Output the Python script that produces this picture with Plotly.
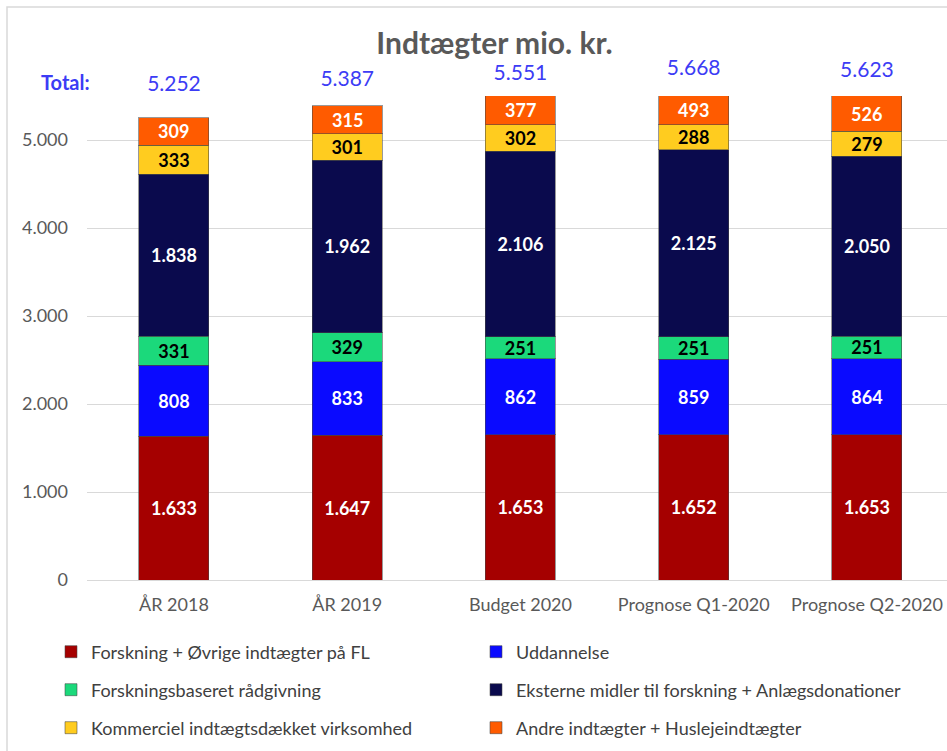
import plotly.graph_objects as go

categories = ["ÅR 2018", "ÅR 2019", "Budget 2020", "Prognose Q1-2020", "Prognose Q2-2020"]

forskning = [1633, 1647, 1653, 1652, 1653]
uddannelse = [808, 833, 862, 859, 864]
raadgivning = [331, 329, 251, 251, 251]
eksterne = [1838, 1962, 2106, 2125, 2050]
kommerciel = [333, 301, 302, 288, 279]
andre = [309, 315, 377, 493, 526]

series = [
    ("Forskning + Øvrige indtægter på FL", forskning, "#A50000", "white"),
    ("Uddannelse", uddannelse, "#0A0AFF", "white"),
    ("Forskningsbaseret rådgivning", raadgivning, "#1BD97B", "black"),
    ("Eksterne midler til forskning + Anlægsdonationer", eksterne, "#0A0A4D", "white"),
    ("Kommerciel indtægtsdækket virksomhed", kommerciel, "#FFCC1F", "black"),
    ("Andre indtægter + Huslejeindtægter", andre, "#FF5B00", "white"),
]

totals = [sum(v) for v in zip(forskning, uddannelse, raadgivning, eksterne, kommerciel, andre)]

y_ticks = [0, 1000, 2000, 3000, 4000, 5000]
Y_MAX = 5500

FONT = "Lato, 'Open Sans', sans-serif"
legend_names = ["legend", "legend2", "legend3"]

# layout geometry (pixels)
W, H = 947, 751
L, R, T, B = 87, 0, 60, 171
PH = H - T - B  # plot height
main_top_px = 96
dom_split = (H - B - main_top_px) / PH


def px_x(px):
    return (px - L) / (W - L - R)


def px_y(py):
    return (H - B - py) / PH


def fmt(v):
    return f"{v:,}".replace(",", ".")


fig = go.Figure()
for i, (name, vals, color, tcolor) in enumerate(series):
    is_top = i == len(series) - 1
    fig.add_trace(go.Bar(
        x=categories, y=vals, name=name,
        marker=dict(color=color, line=dict(color="rgba(70,70,70,0.55)", width=1)),
        width=0.404,
        text=vals, texttemplate="%{y:,}",
        textposition="none" if is_top else "inside",
        insidetextanchor="middle", textangle=0, constraintext="none",
        textfont=dict(family=FONT, size=18, color=tcolor, weight="bold"),
        legend=legend_names[i // 2],
        hoverinfo="skip",
    ))

# labels of the top segment, centred on the visible (clipped) part of the bar
top_name, top_vals, _, top_tcolor = series[-1]
for c, v, tot in zip(categories, top_vals, totals):
    base = tot - v
    fig.add_annotation(x=c, y=(base + min(tot, Y_MAX)) / 2, xref="x", yref="y",
                       text=f"<b>{fmt(v)}</b>", showarrow=False,
                       xanchor="center", yanchor="middle",
                       font=dict(family=FONT, size=18, color=top_tcolor))

fig.add_trace(go.Scatter(
    x=categories, y=totals, mode="text", yaxis="y2",
    text=[fmt(t) for t in totals],
    textposition="middle center",
    textfont=dict(family=FONT, size=21, color="#3C3CF5"),
    showlegend=False, cliponaxis=False, hoverinfo="skip",
))

leg_common = dict(orientation="h", xanchor="left", yanchor="middle",
                  font=dict(family=FONT, size=18, color="#404040"),
                  entrywidth=380, traceorder="normal", bgcolor="rgba(0,0,0,0)")
leg_x = px_x(51)

fig.update_layout(
    width=W, height=H,
    margin=dict(l=L, r=R, t=T, b=B),
    paper_bgcolor="white", plot_bgcolor="white",
    barmode="stack",
    separators=",.",
    font=dict(family=FONT, color="#595959"),
    title=dict(text="<b>Indtægter mio. kr.</b>", x=494.5 / W, xref="container", y=1 - 43 / H,
               yref="container", xanchor="center", yanchor="middle",
               font=dict(family=FONT, size=30, color="#595959")),
    xaxis=dict(range=[-0.502, 4.462], showgrid=False, showline=True, linecolor="#D9D9D9",
               ticks="", ticklabelstandoff=8,
               tickfont=dict(family=FONT, size=18, color="#595959")),
    yaxis=dict(domain=[0, dom_split], range=[0, Y_MAX], tickvals=y_ticks, tickformat=",d",
               showgrid=True, gridcolor="#D9D9D9", gridwidth=1, zeroline=False,
               showline=False, ticks="", ticklabelstandoff=18,
               tickfont=dict(family=FONT, size=18, color="#595959")),
    yaxis2=dict(domain=[dom_split, 1], anchor="x", range=[4980, 5938], visible=False,
                showgrid=False),
    legend=dict(x=leg_x, y=px_y(652), **leg_common),
    legend2=dict(x=leg_x, y=px_y(690), **leg_common),
    legend3=dict(x=leg_x, y=px_y(728), **leg_common),
    showlegend=True,
)

fig.add_annotation(text="<b>Total:</b>", xref="paper", yref="paper",
                   x=px_x(65.5), y=px_y(82), showarrow=False,
                   xanchor="center", yanchor="middle",
                   font=dict(family=FONT, size=20, color="#3C3CF5"))

fig.add_shape(type="rect", xref="paper", yref="paper",
              x0=px_x(7), x1=1.2, y0=-1, y1=px_y(7),
              line=dict(color="#D9D9D9", width=1.5), layer="below")

fig.write_html("out.html", config={"displayModeBar": False},
               post_script="document.body.style.margin='0px';")
